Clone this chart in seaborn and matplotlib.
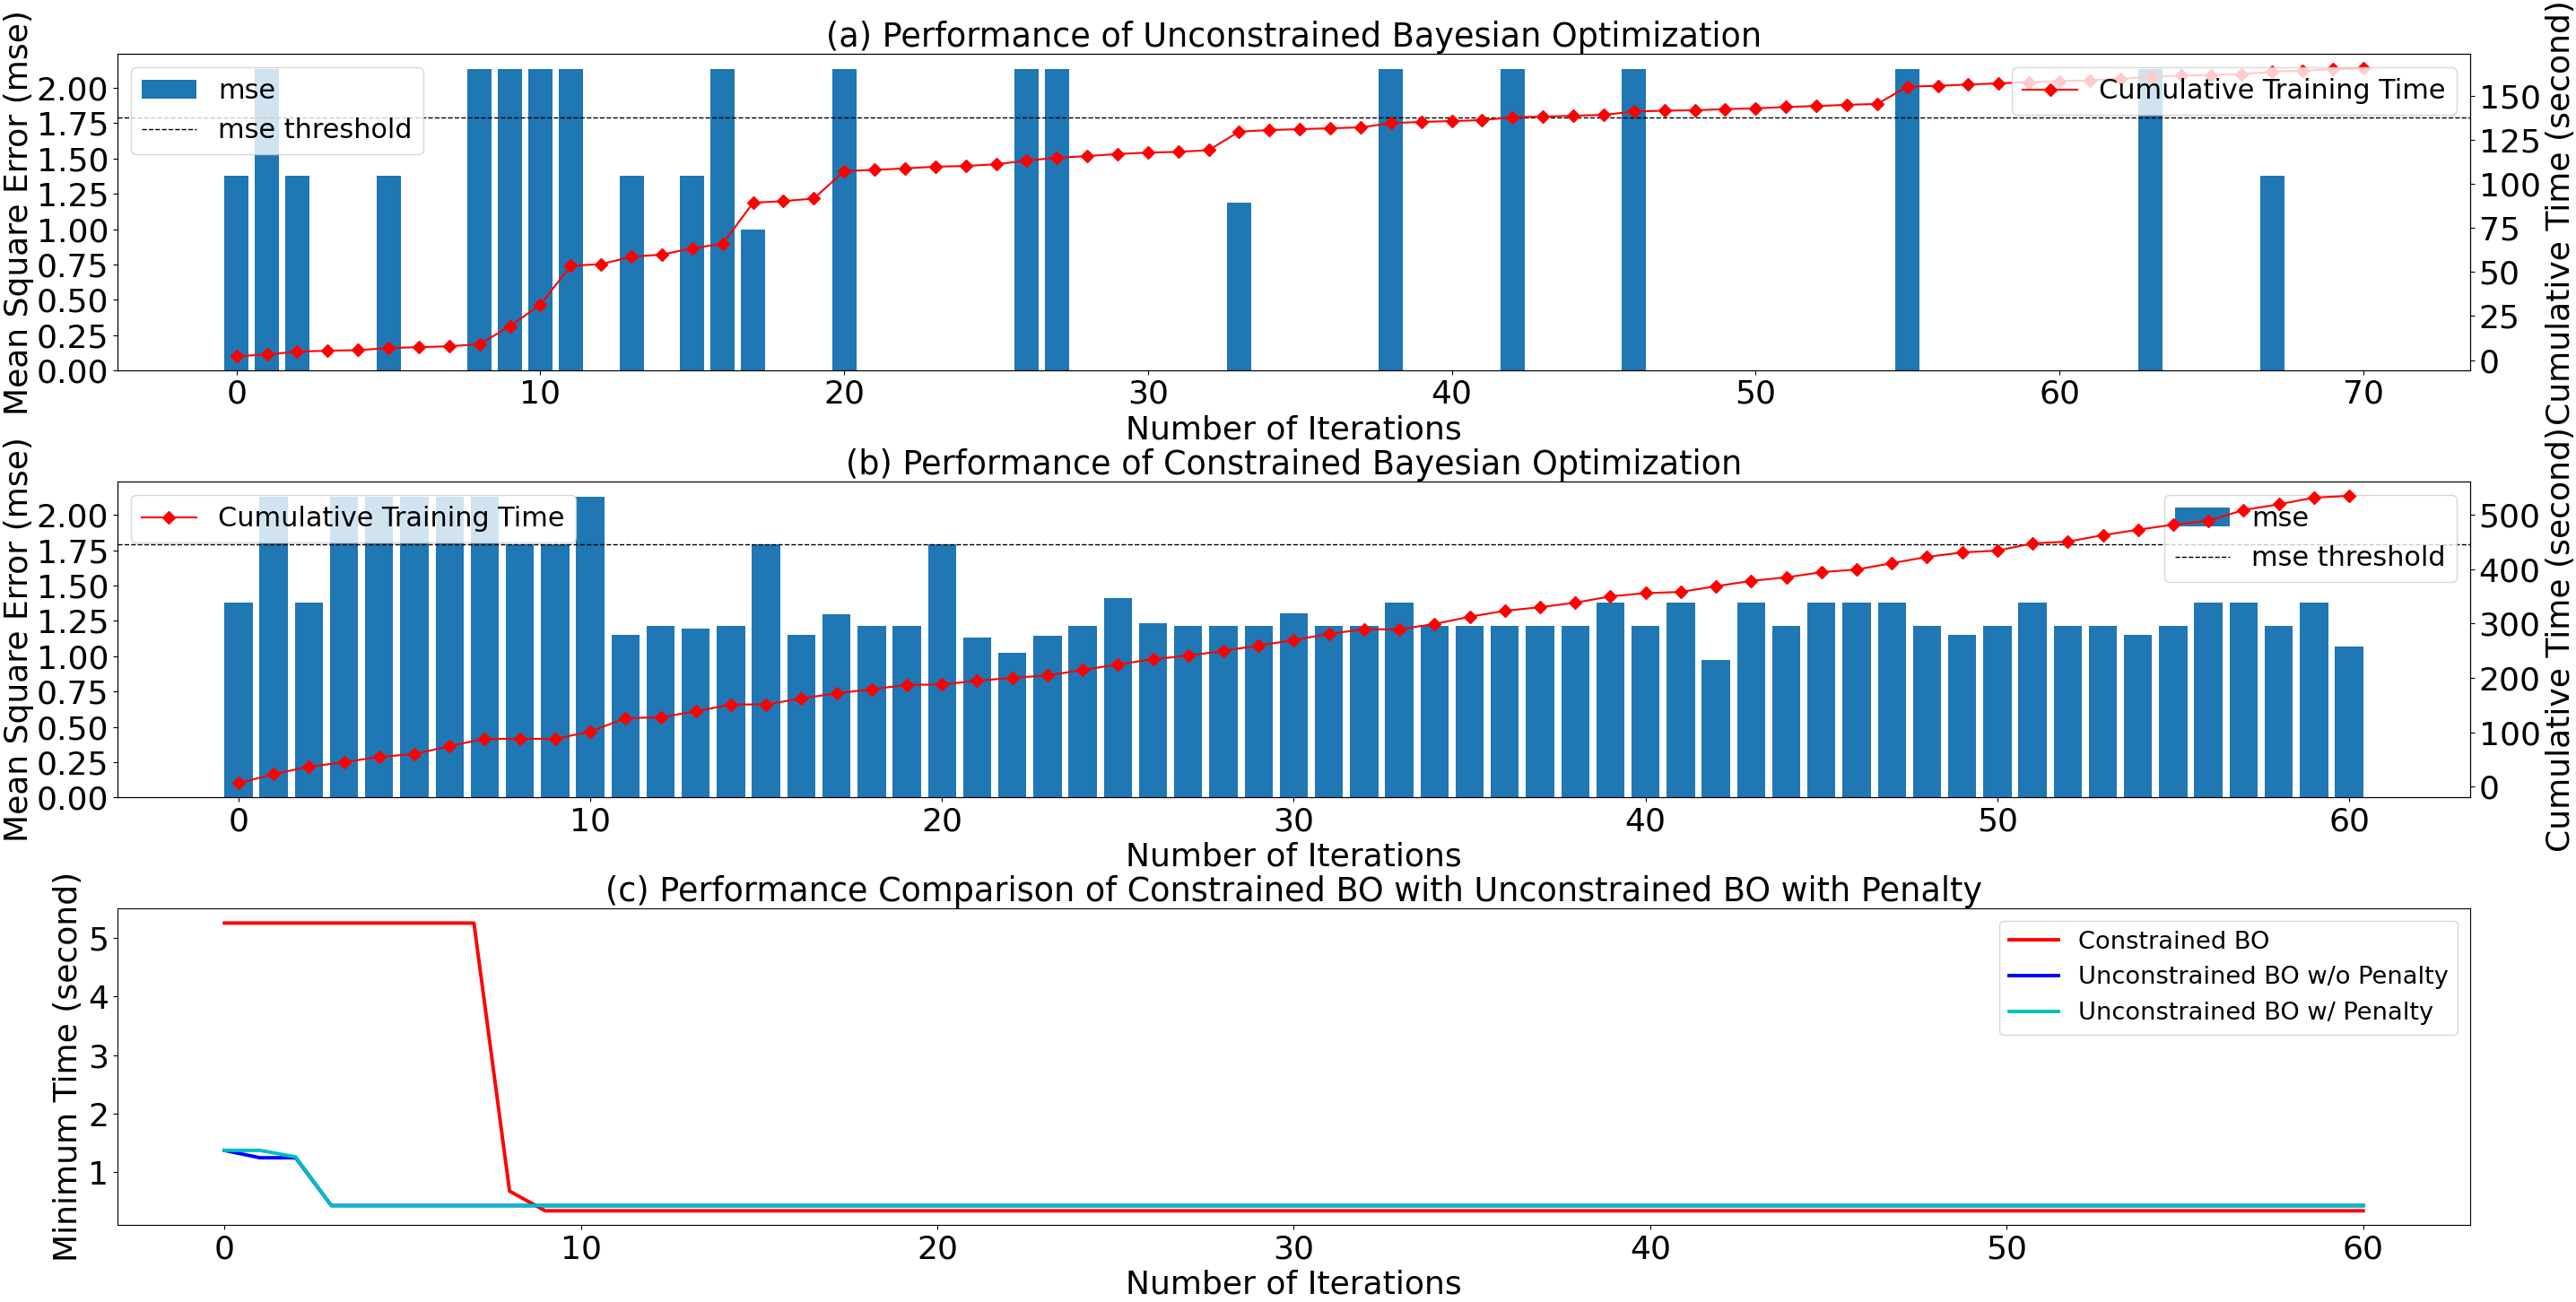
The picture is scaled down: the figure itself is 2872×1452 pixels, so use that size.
import matplotlib
matplotlib.use("Agg")
import matplotlib.pyplot as plt
import seaborn as sns

# ---------------- data ----------------
mse_threshold = 1.794

# (a) unconstrained BO
a_bar_iter = [0, 1, 2, 5, 8, 9, 10, 11, 13, 15, 16, 17, 20, 26, 27, 33, 38, 42, 46, 55, 63, 67]
a_bar_mse = [1.38, 2.135, 1.38, 1.38, 2.135, 2.135, 2.135, 2.135, 1.38, 1.38, 2.135, 1.0,
             2.135, 2.135, 2.135, 1.19, 2.135, 2.135, 2.135, 2.135, 2.135, 1.38]
a_time_iter = list(range(71))
a_time = [2.2, 3.1, 4.8, 5.3, 5.6, 6.8, 7.3, 7.8, 9.0, 19.2,
          31.4, 53.5, 54.4, 58.6, 59.8, 63.5, 65.9, 89.2, 90.2, 91.6,
          107.2, 107.9, 108.7, 109.7, 110.1, 111.1, 113.1, 114.8, 115.7, 116.9,
          117.7, 118.1, 119.1, 129.6, 130.5, 131.0, 131.5, 132.0, 134.4, 135.1,
          135.6, 136.1, 137.8, 138.1, 138.6, 139.1, 141.0, 141.5, 141.7, 142.4,
          142.8, 143.6, 144.1, 144.8, 145.3, 155.1, 155.6, 156.3, 157.0, 157.7,
          158.2, 158.7, 159.5, 160.7, 161.4, 161.7, 162.2, 163.6, 164.1, 165.0,
          165.6]

# (b) constrained BO
b_iter = list(range(61))
b_mse = [1.38, 2.13, 1.38, 2.13, 2.13, 2.13, 2.13, 2.13, 1.794, 1.794,
         2.13, 1.151, 1.215, 1.196, 1.215, 1.794, 1.151, 1.297, 1.215, 1.215,
         1.794, 1.132, 1.024, 1.145, 1.215, 1.412, 1.234, 1.215, 1.215, 1.215,
         1.304, 1.215, 1.215, 1.38, 1.215, 1.215, 1.215, 1.215, 1.215, 1.38,
         1.215, 1.38, 0.974, 1.38, 1.215, 1.38, 1.38, 1.38, 1.215, 1.151,
         1.215, 1.38, 1.215, 1.215, 1.151, 1.215, 1.38, 1.38, 1.215, 1.38,
         1.069]
b_time = [6.6, 23.1, 36.8, 45.0, 54.9, 59.9, 74.8, 88.0, 88.0, 88.0,
          101.2, 125.9, 127.6, 138.6, 151.2, 151.2, 162.2, 171.6, 179.2, 187.0,
          188.1, 194.7, 200.2, 204.6, 214.5, 224.9, 234.3, 240.9, 249.7, 259.6,
          269.5, 281.0, 289.3, 289.3, 299.2, 312.4, 323.4, 330.0, 338.3, 349.8,
          355.8, 358.1, 368.5, 378.4, 384.8, 394.4, 399.3, 410.9, 422.4, 430.7,
          434.0, 447.2, 450.5, 462.5, 472.4, 481.8, 488.9, 508.7, 519.1, 531.4,
          534.7]

# (c) comparison
c_iter = list(range(61))
c_constrained = [5.255, 5.255, 5.255, 5.255, 5.255, 5.255, 5.255, 5.255, 0.68, 0.345,
                 0.345, 0.345, 0.345, 0.345, 0.345, 0.345, 0.345, 0.345, 0.345, 0.345,
                 0.345, 0.345, 0.345, 0.345, 0.345, 0.345, 0.345, 0.345, 0.345, 0.345,
                 0.345, 0.345, 0.345, 0.345, 0.345, 0.345, 0.345, 0.345, 0.345, 0.345,
                 0.345, 0.345, 0.345, 0.345, 0.345, 0.345, 0.345, 0.345, 0.345, 0.345,
                 0.345, 0.345, 0.345, 0.345, 0.345, 0.345, 0.345, 0.345, 0.345, 0.345,
                 0.345]
c_unc_nopen = [1.376, 1.25, 1.25, 0.434, 0.434, 0.434, 0.434, 0.434, 0.434, 0.434,
               0.434, 0.434, 0.434, 0.434, 0.434, 0.434, 0.434, 0.434, 0.434, 0.434,
               0.434, 0.434, 0.434, 0.434, 0.434, 0.434, 0.434, 0.434, 0.434, 0.434,
               0.434, 0.434, 0.434, 0.434, 0.434, 0.434, 0.434, 0.434, 0.434, 0.434,
               0.434, 0.434, 0.434, 0.434, 0.434, 0.434, 0.434, 0.434, 0.434, 0.434,
               0.434, 0.434, 0.434, 0.434, 0.434, 0.434, 0.434, 0.434, 0.434, 0.434,
               0.434]
c_unc_pen = [1.376, 1.376, 1.265, 0.434, 0.434, 0.434, 0.434, 0.434, 0.434, 0.434,
             0.434, 0.434, 0.434, 0.434, 0.434, 0.434, 0.434, 0.434, 0.434, 0.434,
             0.434, 0.434, 0.434, 0.434, 0.434, 0.434, 0.434, 0.434, 0.434, 0.434,
             0.434, 0.434, 0.434, 0.434, 0.434, 0.434, 0.434, 0.434, 0.434, 0.434,
             0.434, 0.434, 0.434, 0.434, 0.434, 0.434, 0.434, 0.434, 0.434, 0.434,
             0.434, 0.434, 0.434, 0.434, 0.434, 0.434, 0.434, 0.434, 0.434, 0.434,
             0.434]

# ---------------- style ----------------
LABEL_FS = 26
TITLE_FS = 26.3
TICK_FS = 26
LEG_FS = 21.8
LEG_C_FS = 19.6
BAR_COLOR = "#1f77b4"

plt.rcParams["font.family"] = ["DejaVu Sans"]

fig = plt.figure(figsize=(28.72, 14.52), dpi=100)
L, W = 0.0456, 0.9133
ax_a = fig.add_axes([L, 0.7154, W, 0.2433])
ax_b = fig.add_axes([L, 0.3875, W, 0.2427])
ax_c = fig.add_axes([L, 0.0590, W, 0.2431])


def bar_line_panel(ax, bar_x, bar_y, line_x, line_y, title, bars_legend_loc, line_legend_loc):
    sns.barplot(x=bar_x, y=bar_y, native_scale=True, color=BAR_COLOR, saturation=1,
                errorbar=None, width=0.8, ax=ax, label="mse")
    ax.axhline(mse_threshold, color="k", linestyle="--", linewidth=1.0,
               label="mse threshold")
    ax.set_xlabel("Number of Iterations", fontsize=LABEL_FS)
    ax.set_ylabel("Mean Square Error (mse)", fontsize=LABEL_FS, labelpad=2)
    ax.set_title(title, fontsize=TITLE_FS)
    ax.tick_params(labelsize=TICK_FS)
    ax.set_yticks([0, 0.25, 0.5, 0.75, 1.0, 1.25, 1.5, 1.75, 2.0])
    ax.set_yticklabels(["0.00", "0.25", "0.50", "0.75", "1.00", "1.25", "1.50", "1.75", "2.00"])

    ax2 = ax.twinx()
    sns.lineplot(x=line_x, y=line_y, ax=ax2, color="red", marker="D", markersize=7,
                 markeredgecolor="red", markeredgewidth=1.0, linewidth=1.5,
                 label="Cumulative Training Time", errorbar=None)
    ax2.set_ylabel("Cumulative Time (second)", fontsize=LABEL_FS)
    ax2.tick_params(labelsize=TICK_FS)

    handles, labels = ax.get_legend_handles_labels()
    order = [labels.index("mse"), labels.index("mse threshold")]
    ax.legend([handles[i] for i in order], [labels[i] for i in order],
              loc=bars_legend_loc, fontsize=LEG_FS)
    h2, l2 = ax2.get_legend_handles_labels()
    ax2.legend(h2, l2, loc=line_legend_loc, fontsize=LEG_FS)
    return ax2


ax_a2 = bar_line_panel(ax_a, a_bar_iter, a_bar_mse, a_time_iter, a_time,
                       "(a) Performance of Unconstrained Bayesian Optimization",
                       "upper left", "upper right")
ax_a2.set_yticks([0, 25, 50, 75, 100, 125, 150])

ax_b2 = bar_line_panel(ax_b, b_iter, b_mse, b_iter, b_time,
                       "(b) Performance of Constrained Bayesian Optimization",
                       "upper right", "upper left")
ax_b2.set_yticks([0, 100, 200, 300, 400, 500])

# (c)
LW_C = 2.8
sns.lineplot(x=c_iter, y=c_constrained, ax=ax_c, color="red", linewidth=LW_C,
             label="Constrained BO", errorbar=None)
sns.lineplot(x=c_iter, y=c_unc_nopen, ax=ax_c, color="blue", linewidth=LW_C,
             label="Unconstrained BO w/o Penalty", errorbar=None)
sns.lineplot(x=c_iter, y=c_unc_pen, ax=ax_c, color="c", linewidth=LW_C,
             label="Unconstrained BO w/ Penalty", errorbar=None)
ax_c.set_xlabel("Number of Iterations", fontsize=LABEL_FS)
ax_c.set_ylabel("Minimum Time (second)", fontsize=LABEL_FS)
ax_c.set_title("(c) Performance Comparison of Constrained BO with Unconstrained BO with Penalty",
               fontsize=TITLE_FS)
ax_c.tick_params(labelsize=TICK_FS)
ax_c.set_yticks([1, 2, 3, 4, 5])
ax_c.legend(loc="upper right", fontsize=LEG_C_FS)

fig.savefig("out.png", dpi=100)
